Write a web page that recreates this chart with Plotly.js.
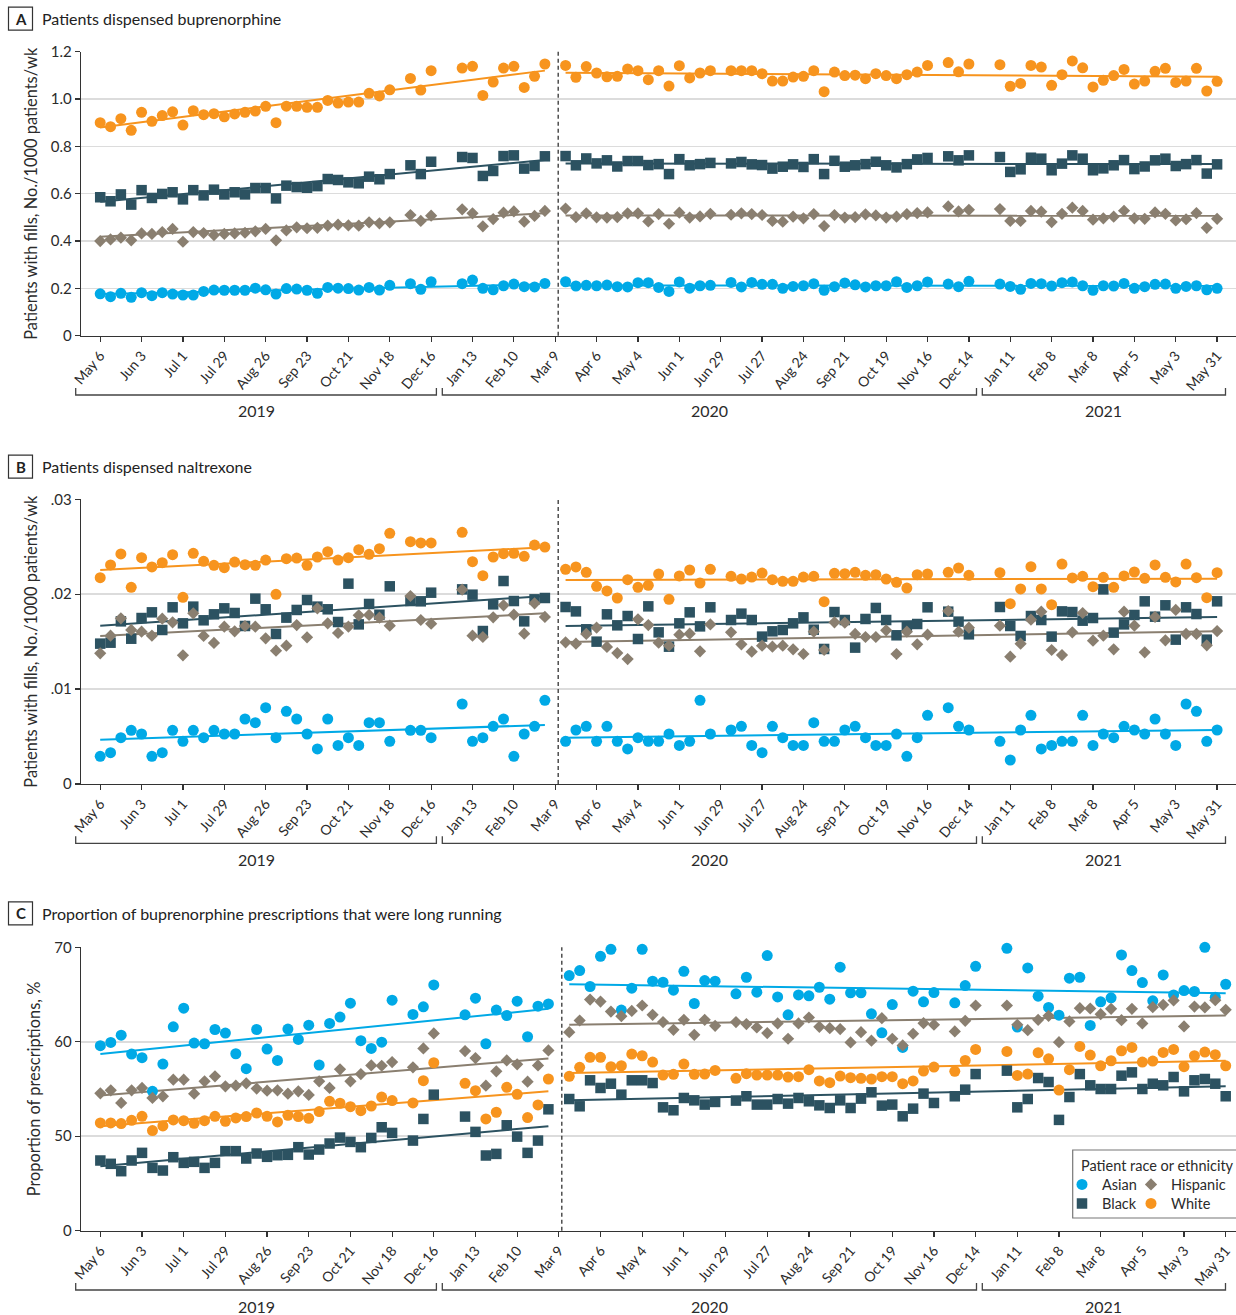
<!DOCTYPE html>
<html><head><meta charset="utf-8">
<script src="https://cdn.plot.ly/plotly-3.0.1.min.js"></script>
<style>html,body{margin:0;padding:0;background:#fff}#chart{width:1236px;height:1315px}</style>
</head><body><div id="chart"></div>
<script>
// ---------- categories (weeks since 2019-05-06; holiday weeks missing) ----------
const weekStart = '2019-05-06';
const preWeeks = [0,1,2,3,4,5,6,7,8,9,10,11,12,13,14,15,16,17,18,19,20,21,22,23,24,25,26,27,28,30,31,32,35,36,37,38,39,40,41,42,43];
const postWeeks = [45,46,47,48,49,50,51,52,53,54,55,56,57,58,59,61,62,63,64,65,66,67,68,69,70,71,72,73,74,75,76,77,78,79,80,82,83,84,87,88,89,90,91,92,93,94,95,96,97,98,99,100,101,102,103,104,105,106,107,108];
const trendWeeksPre = [0, 43];
const trendWeeksPost = [45, 108];
const groups = ['Asian', 'Black', 'Hispanic', 'White'];
const yearLabels = ['2019', '2020', '2021'];
const interventionDate = '2020-03-11';
const legendTitle = 'Patient race or ethnicity';

// ---------- Panel A: buprenorphine, patients with fills per 1000 patients/wk ----------
const bupAsianPre = [0.177,0.165,0.179,0.162,0.182,0.169,0.182,0.176,0.172,0.172,0.187,0.193,0.192,0.192,0.192,0.201,0.194,0.176,0.199,0.197,0.192,0.179,0.204,0.201,0.199,0.193,0.204,0.193,0.213,0.220,0.196,0.228,0.220,0.235,0.200,0.194,0.211,0.218,0.207,0.206,0.221];
const bupAsianPost = [0.228,0.210,0.213,0.211,0.214,0.207,0.206,0.224,0.224,0.204,0.187,0.227,0.201,0.211,0.213,0.225,0.206,0.225,0.217,0.217,0.200,0.208,0.211,0.220,0.192,0.207,0.223,0.215,0.206,0.211,0.211,0.228,0.204,0.211,0.227,0.218,0.207,0.230,0.218,0.208,0.196,0.221,0.220,0.210,0.224,0.227,0.211,0.192,0.211,0.210,0.221,0.200,0.207,0.217,0.218,0.200,0.208,0.211,0.194,0.200];
const bupBlackPre = [0.585,0.568,0.597,0.554,0.615,0.582,0.599,0.606,0.576,0.615,0.593,0.617,0.597,0.606,0.597,0.624,0.624,0.580,0.634,0.628,0.625,0.632,0.662,0.658,0.648,0.644,0.672,0.661,0.683,0.720,0.683,0.735,0.755,0.751,0.675,0.696,0.759,0.762,0.706,0.717,0.758];
const bupBlackPost = [0.759,0.720,0.749,0.728,0.741,0.715,0.738,0.738,0.721,0.725,0.683,0.746,0.720,0.725,0.730,0.728,0.734,0.724,0.721,0.706,0.714,0.724,0.713,0.746,0.683,0.739,0.714,0.720,0.725,0.735,0.720,0.711,0.725,0.745,0.751,0.758,0.741,0.762,0.755,0.692,0.703,0.752,0.748,0.699,0.727,0.762,0.748,0.699,0.707,0.720,0.742,0.704,0.715,0.741,0.748,0.717,0.725,0.742,0.685,0.724];
const bupHispanicPre = [0.400,0.407,0.414,0.403,0.432,0.430,0.438,0.451,0.397,0.438,0.434,0.425,0.430,0.432,0.435,0.441,0.451,0.403,0.445,0.458,0.454,0.456,0.465,0.469,0.466,0.465,0.479,0.475,0.479,0.510,0.485,0.507,0.534,0.517,0.462,0.493,0.520,0.525,0.482,0.506,0.527];
const bupHispanicPost = [0.537,0.501,0.517,0.500,0.499,0.501,0.517,0.517,0.483,0.514,0.473,0.520,0.499,0.504,0.515,0.511,0.517,0.514,0.510,0.485,0.482,0.503,0.496,0.514,0.463,0.510,0.499,0.501,0.513,0.508,0.499,0.503,0.514,0.518,0.521,0.546,0.525,0.532,0.535,0.485,0.485,0.527,0.524,0.480,0.515,0.541,0.527,0.490,0.496,0.503,0.528,0.496,0.494,0.521,0.515,0.487,0.492,0.518,0.456,0.494];
const bupWhitePre = [0.900,0.883,0.917,0.868,0.944,0.906,0.930,0.946,0.890,0.951,0.934,0.938,0.925,0.937,0.944,0.949,0.969,0.900,0.970,0.969,0.965,0.965,0.994,0.983,0.987,0.987,1.024,1.013,1.039,1.087,1.038,1.120,1.131,1.138,1.015,1.072,1.131,1.138,1.049,1.096,1.148];
const bupWhitePost = [1.142,1.092,1.137,1.110,1.094,1.096,1.127,1.120,1.082,1.120,1.055,1.141,1.089,1.110,1.120,1.120,1.120,1.120,1.107,1.076,1.076,1.093,1.096,1.120,1.031,1.114,1.099,1.101,1.086,1.107,1.099,1.086,1.103,1.114,1.142,1.154,1.115,1.148,1.145,1.054,1.066,1.142,1.135,1.058,1.103,1.161,1.132,1.051,1.079,1.099,1.125,1.063,1.076,1.117,1.130,1.070,1.076,1.130,1.034,1.075];
const bupTrendPre = {Asian:[0.176,0.217], Black:[0.566,0.742], Hispanic:[0.418,0.517], White:[0.880,1.120]};
const bupTrendPost = {Asian:[0.212,0.211], Black:[0.728,0.725], Hispanic:[0.508,0.507], White:[1.111,1.094]};

// ---------- Panel B: naltrexone ----------
const nalAsianPre = [0.00292,0.00330,0.00488,0.00566,0.00527,0.00292,0.00330,0.00566,0.00450,0.00566,0.00488,0.00566,0.00527,0.00527,0.00685,0.00646,0.00804,0.00488,0.00766,0.00685,0.00527,0.00369,0.00685,0.00407,0.00488,0.00407,0.00646,0.00646,0.00450,0.00566,0.00566,0.00488,0.00843,0.00450,0.00488,0.00608,0.00685,0.00292,0.00527,0.00608,0.00882];
const nalAsianPost = [0.00450,0.00569,0.00608,0.00450,0.00608,0.00450,0.00369,0.00488,0.00450,0.00450,0.00527,0.00407,0.00450,0.00882,0.00527,0.00569,0.00608,0.00407,0.00330,0.00608,0.00488,0.00407,0.00407,0.00646,0.00450,0.00450,0.00569,0.00608,0.00488,0.00407,0.00407,0.00527,0.00292,0.00488,0.00724,0.00804,0.00608,0.00569,0.00450,0.00253,0.00569,0.00724,0.00369,0.00407,0.00450,0.00450,0.00724,0.00407,0.00527,0.00488,0.00608,0.00569,0.00527,0.00685,0.00527,0.00407,0.00843,0.00766,0.00450,0.00569];
const nalBlackPre = [0.01479,0.01489,0.01714,0.01531,0.01749,0.01809,0.01623,0.01862,0.01693,0.01869,0.01725,0.01788,0.01851,0.01802,0.01665,0.01953,0.01841,0.01581,0.01753,0.01834,0.01939,0.01869,0.01841,0.01707,0.02111,0.01682,0.01897,0.01784,0.02083,0.01928,0.01925,0.02016,0.02051,0.01995,0.01612,0.01893,0.02139,0.01928,0.01714,0.01946,0.01960];
const nalBlackPost = [0.01865,0.01819,0.01630,0.01500,0.01788,0.01672,0.01770,0.01528,0.01872,0.01598,0.01447,0.01693,0.01809,0.01661,0.01862,0.01728,0.01795,0.01728,0.01553,0.01609,0.01623,0.01693,0.01756,0.01626,0.01423,0.01812,0.01728,0.01437,0.01739,0.01855,0.01728,0.01567,0.01658,0.01686,0.01862,0.01816,0.01711,0.01577,0.01865,0.01665,0.01560,0.01770,0.01728,0.01553,0.01819,0.01812,0.01721,0.01749,0.02051,0.01595,0.01682,0.01781,0.01925,0.01763,0.01883,0.01521,0.01862,0.01791,0.01521,0.01925];
const nalHispanicPre = [0.01377,0.01563,0.01746,0.01623,0.01605,0.01563,0.01742,0.01704,0.01356,0.01798,0.01560,0.01486,0.01658,0.01609,0.01665,0.01658,0.01535,0.01405,0.01458,0.01675,0.01546,0.01851,0.01693,0.01591,0.01658,0.01777,0.01781,0.01753,0.01668,0.01981,0.01728,0.01689,0.02048,0.01563,0.01549,0.01756,0.01883,0.01784,0.01584,0.01904,0.01760];
const nalHispanicPost = [0.01493,0.01479,0.01581,0.01647,0.01444,0.01380,0.01317,0.01735,0.01675,0.01489,0.01458,0.01574,0.01584,0.01398,0.01682,0.01598,0.01472,0.01394,0.01458,0.01447,0.01458,0.01419,0.01370,0.01605,0.01412,0.01704,0.01700,0.01581,0.01549,0.01549,0.01619,0.01370,0.01605,0.01472,0.01574,0.01823,0.01605,0.01647,0.01668,0.01342,0.01479,0.01732,0.01816,0.01412,0.01359,0.01598,0.01802,0.01510,0.01563,0.01419,0.01816,0.01668,0.01387,0.01760,0.01514,0.01834,0.01581,0.01581,0.01461,0.01612];
const nalWhitePre = [0.02174,0.02308,0.02424,0.02072,0.02385,0.02287,0.02332,0.02417,0.01967,0.02431,0.02346,0.02304,0.02280,0.02339,0.02311,0.02304,0.02360,0.01999,0.02374,0.02381,0.02304,0.02392,0.02448,0.02360,0.02385,0.02469,0.02420,0.02480,0.02641,0.02554,0.02540,0.02540,0.02652,0.02343,0.02195,0.02392,0.02427,0.02431,0.02399,0.02518,0.02497];
const nalWhitePost = [0.02262,0.02287,0.02230,0.02083,0.02034,0.01960,0.02153,0.02072,0.02093,0.02213,0.01946,0.02192,0.02255,0.02118,0.02262,0.02188,0.02160,0.02181,0.02223,0.02153,0.02136,0.02136,0.02181,0.02188,0.01921,0.02220,0.02216,0.02230,0.02199,0.02206,0.02160,0.02125,0.02065,0.02206,0.02213,0.02230,0.02276,0.02199,0.02227,0.01900,0.02055,0.02290,0.02055,0.01890,0.02318,0.02171,0.02188,0.02079,0.02178,0.02072,0.02192,0.02234,0.02167,0.02308,0.02178,0.02129,0.02318,0.02174,0.01963,0.02227];
const nalTrendPre = {Asian:[0.00467,0.00622], Black:[0.01668,0.01981], Hispanic:[0.01560,0.01798], White:[0.02255,0.02494]};
const nalTrendPost = {Asian:[0.00488,0.00569], Black:[0.01665,0.01760], Hispanic:[0.01496,0.01609], White:[0.02150,0.02164]};

// ---------- Panel C: long-running buprenorphine prescriptions, % ----------
const lrAsianPre = [59.58,59.93,60.70,58.70,58.31,54.75,57.64,61.58,63.56,59.86,59.79,61.30,60.92,58.73,57.15,61.30,59.23,58.03,61.34,60.25,61.76,57.54,61.94,62.61,64.08,60.11,59.30,59.96,64.40,62.89,63.70,66.02,62.85,64.61,59.79,63.35,62.78,64.30,60.53,63.77,64.01];
const lrAsianPost = [67.01,67.54,65.85,69.05,69.79,63.35,65.67,69.79,66.41,66.30,65.46,67.46,64.05,66.48,66.41,65.07,66.83,65.25,69.12,64.75,62.85,64.96,64.86,65.77,64.51,67.89,65.18,65.18,62.96,60.95,63.94,59.40,65.35,64.23,65.21,64.12,65.95,67.99,69.89,61.55,67.82,64.82,63.63,62.82,66.73,66.83,61.73,64.23,64.65,69.19,67.54,66.27,64.33,67.08,64.96,65.42,65.32,70.00,64.72,66.09];
const lrBlackPre = [47.43,47.08,46.30,47.43,48.24,46.65,46.37,47.78,47.18,47.29,46.65,47.18,48.42,48.42,47.64,48.17,47.82,47.99,48.03,48.84,48.06,48.59,49.23,49.86,49.40,48.84,49.82,50.95,50.35,49.54,51.83,54.40,52.08,50.46,47.96,48.13,51.16,49.96,48.24,49.54,52.85];
const lrBlackPost = [53.94,53.17,55.92,55.11,55.56,54.40,55.92,55.92,55.63,53.06,52.75,54.05,53.80,53.35,53.63,53.77,54.23,53.35,53.35,53.94,53.45,54.05,53.70,53.27,52.99,53.80,52.99,53.98,54.65,53.24,53.35,52.11,52.92,54.51,53.52,54.23,54.93,56.58,56.94,53.06,53.94,56.16,55.74,51.73,54.15,56.58,55.39,55.00,55.00,56.41,56.76,55.00,55.56,55.39,56.27,54.75,55.92,56.06,55.56,54.23];
const lrHispanicPre = [54.54,54.86,53.52,54.86,55.11,54.05,54.23,55.99,55.99,54.51,55.81,56.34,55.28,55.35,55.60,55.04,54.82,54.86,54.51,54.75,54.37,55.81,55.11,57.08,55.81,56.58,57.50,57.46,57.85,57.29,59.30,60.88,59.01,58.27,55.35,56.87,58.03,57.61,55.77,57.50,59.08];
const lrHispanicPost = [61.02,62.25,64.47,64.26,63.20,62.71,63.27,63.84,62.85,62.08,61.27,62.32,60.74,62.32,61.69,62.08,61.87,61.51,60.92,61.94,60.32,61.94,62.57,61.58,61.44,61.34,59.93,61.02,60.11,62.50,60.32,59.61,60.85,61.97,61.80,61.09,62.22,63.84,63.84,61.80,61.23,62.32,62.75,59.96,62.15,63.56,63.52,62.92,63.49,62.29,63.49,61.94,63.66,63.91,64.37,61.62,63.73,63.63,64.40,63.38];
const lrWhitePre = [51.41,51.41,51.34,51.69,52.11,50.60,51.09,51.73,51.65,51.37,51.65,52.11,51.58,51.94,52.08,52.46,52.11,51.51,52.22,52.08,51.90,52.61,53.70,53.49,53.13,52.71,53.20,54.15,53.77,53.52,55.88,57.78,55.60,54.82,51.83,52.54,55.18,54.44,51.97,53.31,56.06];
const lrWhitePost = [56.34,57.29,58.35,58.35,57.36,57.46,58.70,58.52,57.85,56.48,56.55,57.64,56.55,56.58,56.97,56.13,56.62,56.48,56.48,56.48,56.27,56.30,57.04,55.85,55.67,56.37,56.20,56.13,56.06,56.30,56.30,55.56,55.85,56.90,57.32,56.87,58.03,59.19,58.98,56.44,56.58,58.84,58.20,54.89,57.04,59.51,58.59,57.46,57.99,59.05,59.40,57.85,57.96,58.87,59.19,57.36,58.52,58.91,58.63,57.46];
const lrTrendPre = {Asian:[58.70,63.49], Black:[46.83,51.06], Hispanic:[54.30,58.24], White:[51.06,54.75]};
const lrTrendPost = {Asian:[66.09,65.14], Black:[53.80,55.28], Hispanic:[61.80,62.78], White:[56.69,57.99]};

// tick labels
const yTickValsA = [0,0.2,0.4,0.6,0.8,1.0,1.2];
const yTickTextA = ['0','0.2','0.4','0.6','0.8','1.0','1.2'];
const yTickValsB = [0,0.01,0.02,0.03];
const yTickTextB = ['0','.01','.02','.03'];
const yTickValsC = [40,50,60,70];
const yTickTextC = ['0','50','60','70'];

// ---------- styles ----------
const FONT = 'Lato, "Open Sans", sans-serif';
const TXT = '#2b2b2b';
const style = {
  Asian:    {color:'#00a9e6', symbol:'circle',  size:11},
  Black:    {color:'#2c5261', symbol:'square',  size:10.5},
  Hispanic: {color:'#8a7f70', symbol:'diamond', size:9.4},
  White:    {color:'#f7941e', symbol:'circle',  size:11}
};
const legendOf = {Asian:'legend', Hispanic:'legend2', Black:'legend3', White:'legend4'};

function toDate(w) {
  const t = Date.UTC(2019, 4, 6) + w * 7 * 86400000;
  return new Date(t).toISOString().slice(0, 10);
}
const preDates = preWeeks.map(toDate);
const postDates = postWeeks.map(toDate);
const trendX = [toDate(trendWeeksPre[0]), toDate(trendWeeksPre[1]), null, toDate(trendWeeksPost[0]), toDate(trendWeeksPost[1])];

const panels = [
  {ax:'', pre:{Asian:bupAsianPre,Black:bupBlackPre,Hispanic:bupHispanicPre,White:bupWhitePre},
          post:{Asian:bupAsianPost,Black:bupBlackPost,Hispanic:bupHispanicPost,White:bupWhitePost},
          tpre:bupTrendPre, tpost:bupTrendPost, legend:false},
  {ax:'2', pre:{Asian:nalAsianPre,Black:nalBlackPre,Hispanic:nalHispanicPre,White:nalWhitePre},
          post:{Asian:nalAsianPost,Black:nalBlackPost,Hispanic:nalHispanicPost,White:nalWhitePost},
          tpre:nalTrendPre, tpost:nalTrendPost, legend:false},
  {ax:'3', pre:{Asian:lrAsianPre,Black:lrBlackPre,Hispanic:lrHispanicPre,White:lrWhitePre},
          post:{Asian:lrAsianPost,Black:lrBlackPost,Hispanic:lrHispanicPost,White:lrWhitePost},
          tpre:lrTrendPre, tpost:lrTrendPost, legend:true}
];

const traces = [];
panels.forEach(p => {
  groups.forEach(g => {
    traces.push({
      type:'scatter', mode:'lines', xaxis:'x'+p.ax, yaxis:'y'+p.ax,
      x: trendX, y: [p.tpre[g][0], p.tpre[g][1], null, p.tpost[g][0], p.tpost[g][1]],
      line:{color:style[g].color, width:2}, showlegend:false, hoverinfo:'skip', connectgaps:false
    });
  });
  groups.forEach(g => {
    traces.push({
      type:'scatter', mode:'markers', name:g, xaxis:'x'+p.ax, yaxis:'y'+p.ax,
      x: preDates.concat(postDates), y: p.pre[g].concat(p.post[g]),
      marker:{color:style[g].color, symbol:style[g].symbol, size:style[g].size, line:{width:0}},
      cliponaxis:false, showlegend:p.legend, legend:legendOf[g]
    });
  });
});

// ---------- layout helpers (pixel -> paper) ----------
const W = 1236, H = 1315;
const px = x => x / W;
const py = y => 1 - y / H;

const xCommon = {
  type:'date', tick0:weekStart, dtick:28*86400000, tickformat:'%b %-d', tickangle:-50,
  showline:true, linecolor:'#333', linewidth:1.3, ticks:'outside', ticklen:5, tickwidth:1.2, tickcolor:'#333',
  showgrid:false, zeroline:false, tickfont:{size:14, color:TXT, family:FONT}
};
const yCommon = {
  showline:true, linecolor:'#333', linewidth:1.3, ticks:'outside', ticklen:5, tickwidth:1.2, tickcolor:'#333',
  showgrid:true, gridcolor:'#dcdcdc', gridwidth:1.5, zeroline:false, tickmode:'array',
  tickfont:{size:15, color:TXT, family:FONT}
};
const yTitle = t => ({text:t, font:{size:16.4, color:TXT, family:FONT}, standoff:9});

// panel geometry in pixels
const geo = [
  {top:51.7, bottom:335.7, titleY:18.6},
  {top:499.3, bottom:784.0, titleY:466.6},
  {top:947.3, bottom:1230.7, titleY:913.3}
];
const panelTitles = ['Patients dispensed buprenorphine', 'Patients dispensed naltrexone', 'Proportion of buprenorphine prescriptions that were long running'];
const panelLetters = ['A', 'B', 'C'];
const bracketX = [[75.7, 436.4], [442.3, 976.5], [982.3, 1225.5]];
const yearCenters = [256, 709, 1103];

const shapes = [];
const annotations = [];
geo.forEach((g, i) => {
  shapes.push({type:'rect', xref:'paper', yref:'paper', x0:px(8.5), x1:px(32.5), y0:py(g.titleY-11.5), y1:py(g.titleY+11.5),
               line:{color:'#333', width:1.2}, fillcolor:'rgba(0,0,0,0)'});
  annotations.push({xref:'paper', yref:'paper', x:px(20.5), y:py(g.titleY), text:'<b>'+panelLetters[i]+'</b>', showarrow:false,
                    xanchor:'center', yanchor:'middle', font:{size:15, color:'#222', family:FONT}});
  annotations.push({xref:'paper', yref:'paper', x:px(40), y:py(g.titleY), text:panelTitles[i], showarrow:false,
                    xanchor:'left', yanchor:'middle', font:{size:16, color:'#222', family:FONT}});
  const sfx = i === 0 ? '' : String(i+1);
  shapes.push({type:'line', xref:'x'+sfx, yref:'y'+sfx+' domain', x0:interventionDate, x1:interventionDate, y0:0, y1:1,
               line:{color:'#333', width:1.3, dash:'4px,3px'}});
  const by = g.bottom + 59.3;
  bracketX.forEach((bx, k) => {
    shapes.push({type:'path', xref:'paper', yref:'paper',
      path:'M'+px(bx[0])+','+py(by-7)+' L'+px(bx[0])+','+py(by)+' L'+px(bx[1])+','+py(by)+' L'+px(bx[1])+','+py(by-7),
      line:{color:'#444', width:1.3}});
    annotations.push({xref:'paper', yref:'paper', x:px(yearCenters[k]), y:py(by+16), text:yearLabels[k], showarrow:false,
                      xanchor:'center', yanchor:'middle', font:{size:16, color:TXT, family:FONT}});
  });
});
// legend frame and title
shapes.push({type:'rect', xref:'paper', yref:'paper', x0:px(1072.7), x1:px(1245), y0:py(1218), y1:py(1150),
             line:{color:'#777', width:1.2}, fillcolor:'rgba(0,0,0,0)'});
annotations.push({xref:'paper', yref:'paper', x:px(1079), y:py(1165), text:legendTitle, showarrow:false,
                  xanchor:'left', yanchor:'middle', font:{size:14.5, color:TXT, family:FONT}});

const legendBase = {xanchor:'left', yanchor:'top', bgcolor:'rgba(0,0,0,0)', borderwidth:0,
                    font:{size:14.5, color:TXT, family:FONT}, tracegroupgap:0, itemclick:false, itemdoubleclick:false};
const layout = {
  width:W, height:H, margin:{l:0, r:0, t:0, b:0},
  paper_bgcolor:'#fff', plot_bgcolor:'rgba(0,0,0,0)',
  font:{family:FONT, size:14, color:TXT},
  showlegend:true,
  xaxis:  Object.assign({}, xCommon, {domain:[px(81), 1], range:['2019-04-23', '2021-06-12 19:00'], anchor:'y'}),
  xaxis2: Object.assign({}, xCommon, {domain:[px(81), 1], range:['2019-04-23', '2021-06-12 19:00'], anchor:'y2'}),
  xaxis3: Object.assign({}, xCommon, {domain:[px(81), 1], range:['2019-04-23', '2021-06-06 22:00'], anchor:'y3'}),
  yaxis:  Object.assign({}, yCommon, {domain:[py(geo[0].bottom), py(geo[0].top)], range:[0, 1.2], tickvals:yTickValsA, ticktext:yTickTextA,
                                      title:yTitle('Patients with fills, No./1000 patients/wk'), anchor:'x'}),
  yaxis2: Object.assign({}, yCommon, {domain:[py(geo[1].bottom), py(geo[1].top)], range:[0, 0.03], tickvals:yTickValsB, ticktext:yTickTextB,
                                      title:yTitle('Patients with fills, No./1000 patients/wk'), anchor:'x2'}),
  yaxis3: Object.assign({}, yCommon, {domain:[py(geo[2].bottom), py(geo[2].top)], range:[40, 70], tickvals:yTickValsC, ticktext:yTickTextC,
                                      title:yTitle('Proportion of prescriptions, %'), anchor:'x3'}),
  legend:  Object.assign({}, legendBase, {x:px(1062), y:py(1168.5)}),
  legend2: Object.assign({}, legendBase, {x:px(1131), y:py(1168.5)}),
  legend3: Object.assign({}, legendBase, {x:px(1062), y:py(1187.5)}),
  legend4: Object.assign({}, legendBase, {x:px(1131), y:py(1187.5)}),
  shapes:shapes,
  annotations:annotations
};

Plotly.newPlot('chart', traces, layout, {staticPlot:true, displayModeBar:false});
</script>
</body></html>
